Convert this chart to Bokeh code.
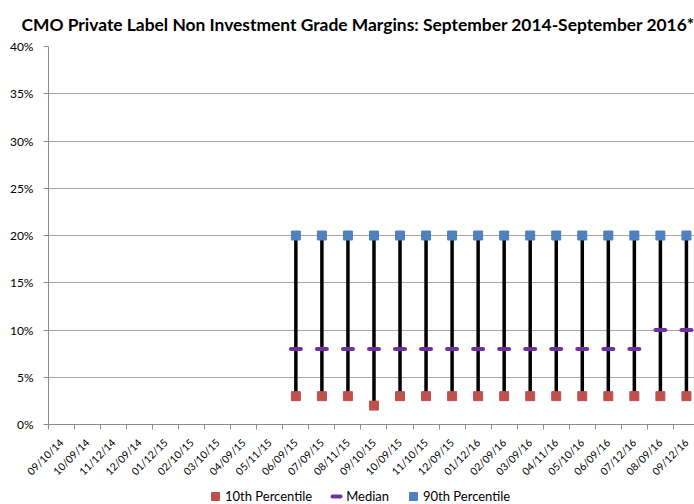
import math
from bokeh.plotting import figure
from bokeh.layouts import column
from bokeh.models import (Range1d, FixedTicker, NumeralTickFormatter, Legend, LegendItem,
                          ColumnDataSource)
from bokeh.embed import file_html
from bokeh.resources import INLINE

nan = float("nan")

dates = ["09/10/14", "10/09/14", "11/12/14", "12/09/14", "01/12/15", "02/10/15",
         "03/10/15", "04/09/15", "05/11/15", "06/09/15", "07/09/15", "08/11/15",
         "09/10/15", "10/09/15", "11/10/15", "12/09/15", "01/12/16", "02/09/16",
         "03/09/16", "04/11/16", "05/10/16", "06/09/16", "07/12/16", "08/09/16",
         "09/12/16"]
p10 = [nan] * 9 + [0.03, 0.03, 0.03, 0.02, 0.03, 0.03, 0.03, 0.03,
                   0.03, 0.03, 0.03, 0.03, 0.03, 0.03, 0.03, 0.03]
median = [nan] * 9 + [0.08] * 14 + [0.10, 0.10]
p90 = [nan] * 9 + [0.20] * 16
y_ticks = [0.0, 0.05, 0.10, 0.15, 0.20, 0.25, 0.30, 0.35, 0.40]
series_names = ["10th Percentile", "Median", "90th Percentile"]

FONT = "Lato"
GRAY = "#8c8c8c"
RED = "#C0504D"
PURPLE = "#7030A0"
BLUE = "#4F81BD"

idx = list(range(len(dates)))
src = ColumnDataSource(dict(x=idx, p10=p10, med=median, p90=p90))

p = figure(width=694, height=484, output_backend="svg", toolbar_location=None,
           x_range=Range1d(-0.5, 24.31), y_range=Range1d(0, 0.40),
           min_border_left=48, min_border_right=0, min_border_top=45,
           min_border_bottom=59,
           title="CMO Private Label Non Investment Grade Margins: September 2014-September 2016*")
p.outline_line_color = None
p.background_fill_color = "white"
p.border_fill_color = "white"

p.title.text_font = FONT
p.title.text_font_size = "17.4px"
p.title.text_font_style = "bold"
p.title.align = "left"
p.title.text_color = "#000000"
p.title.offset = -27
p.title.standoff = 23

# x axis
p.xaxis.ticker = FixedTicker(ticks=idx, minor_ticks=[i - 0.5 for i in range(len(dates) + 1)])
p.xaxis.major_label_overrides = {i: d for i, d in enumerate(dates)}
p.xaxis.major_label_orientation = math.pi / 4
p.xaxis.major_tick_line_color = None
p.xaxis.major_tick_in = 0
p.xaxis.major_tick_out = 0
p.xaxis.minor_tick_line_color = GRAY
p.xaxis.minor_tick_in = 0
p.xaxis.minor_tick_out = 5
p.xaxis.axis_line_color = GRAY
p.xaxis.major_label_text_font = FONT
p.xaxis.major_label_text_font_size = "10.5px"
p.xaxis.major_label_text_color = "#000000"
p.xaxis.major_label_standoff = 11
p.xgrid.visible = False

# y axis
p.yaxis.ticker = FixedTicker(ticks=y_ticks, minor_ticks=[])
p.yaxis.formatter = NumeralTickFormatter(format="0%")
p.yaxis.axis_line_color = GRAY
p.yaxis.major_tick_line_color = GRAY
p.yaxis.major_tick_in = 0
p.yaxis.major_tick_out = 5
p.yaxis.minor_tick_line_color = None
p.yaxis.major_label_text_font = FONT
p.yaxis.major_label_text_font_size = "12px"
p.yaxis.major_label_text_color = "#000000"
p.yaxis.major_label_standoff = 10
p.ygrid.ticker = FixedTicker(ticks=y_ticks)
p.ygrid.grid_line_color = "#a6a6a6"
p.ygrid.grid_line_width = 1

# range lines
p.segment(x0="x", y0="p10", x1="x", y1="p90", source=src, line_color="black", line_width=3.5)

p.scatter("x", "p10", source=src, marker="square", size=9,
          fill_color=RED, line_color=RED)
p.scatter("x", "med", source=src, marker="dash", size=10, line_width=4,
          line_color=PURPLE, line_cap="round")
p.scatter("x", "p90", source=src, marker="square", size=9,
          fill_color=BLUE, line_color=BLUE)

# legend strip below the chart (its frame is aligned with the chart's frame)
lf = figure(width=694, height=20, output_backend="svg", toolbar_location=None,
            x_range=Range1d(0, 1), y_range=Range1d(0, 1),
            x_axis_location=None, y_axis_location=None,
            min_border_left=0, min_border_right=0, min_border_top=0, min_border_bottom=0)
lf.outline_line_color = None
lf.xgrid.visible = False
lf.ygrid.visible = False
l10 = lf.scatter(x=[nan], y=[nan], marker="square", fill_color=RED, line_color=RED)
lmed = lf.scatter(x=[nan], y=[nan], marker="dash", line_width=4, line_color=PURPLE,
                  line_cap="round")
l90 = lf.scatter(x=[nan], y=[nan], marker="square", fill_color=BLUE, line_color=BLUE)

legend = Legend(items=[LegendItem(label=series_names[0], renderers=[l10]),
                       LegendItem(label=series_names[1], renderers=[lmed]),
                       LegendItem(label=series_names[2], renderers=[l90])],
                orientation="horizontal", location=(157, -2))
legend.label_text_font = FONT
legend.label_text_font_size = "13px"
legend.label_text_color = "#000000"
legend.border_line_color = None
legend.background_fill_alpha = 0
legend.glyph_width = 20
legend.glyph_height = 20
legend.label_standoff = -3
legend.spacing = 14
legend.padding = 0
legend.margin = 0
lf.add_layout(legend, "center")

layout = column(p, lf, spacing=0)
open("out.html", "w").write(file_html(layout, INLINE))
